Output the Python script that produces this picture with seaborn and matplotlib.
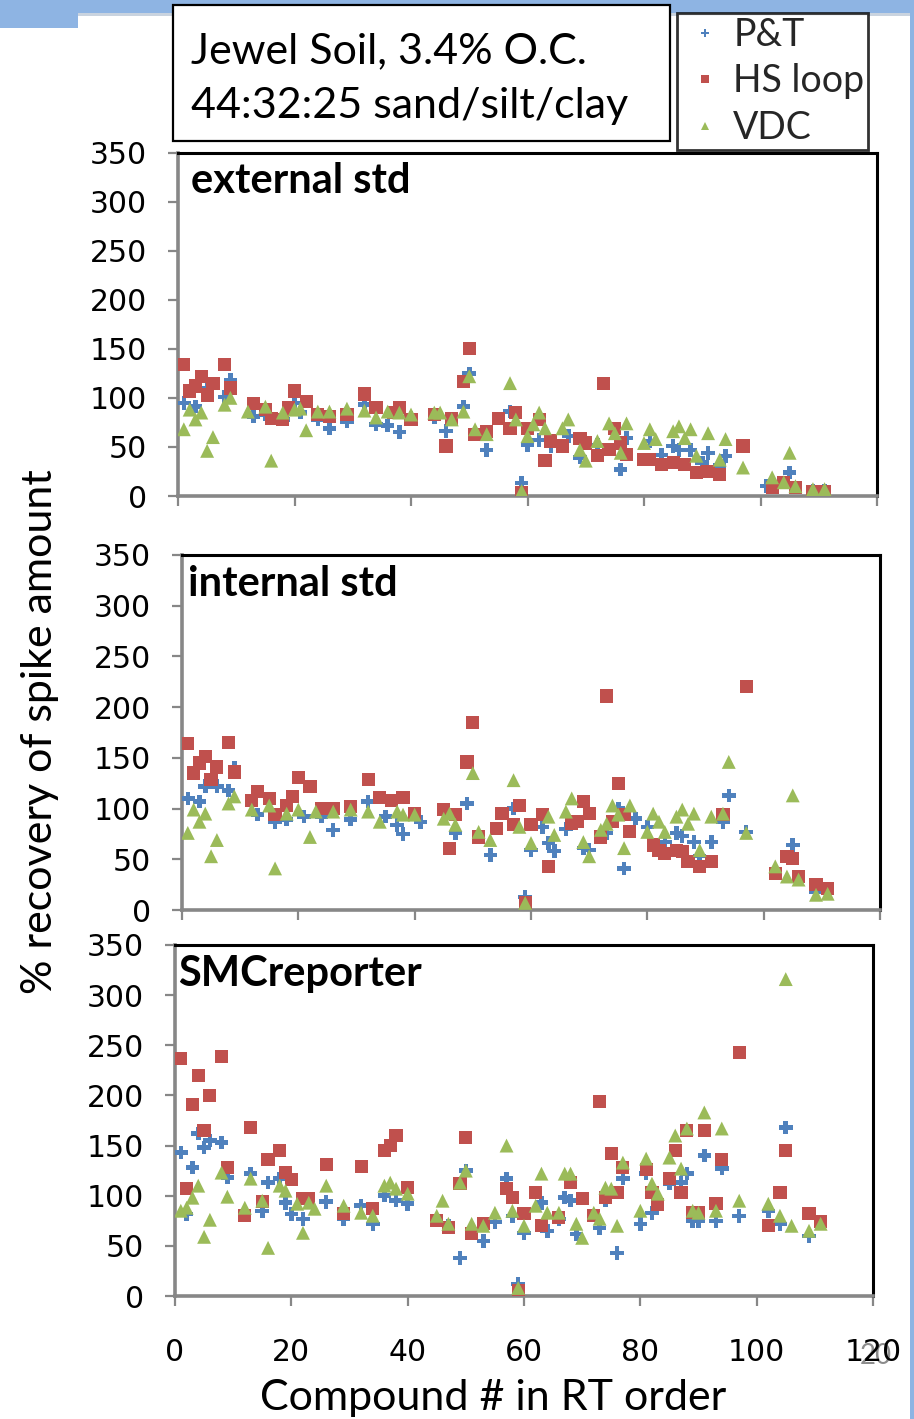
import numpy as np
import pandas as pd
import matplotlib
matplotlib.use("Agg")
import matplotlib.pyplot as plt
import seaborn as sns
from matplotlib.patches import Rectangle
from matplotlib.lines import Line2D

sns.set_theme(style="white")
plt.rcParams['font.family'] = ['Lato', 'DejaVu Sans']

# ---------------- data ----------------
methods = ["P&T", "HS loop", "VDC"]
panel_titles = ["external std", "internal std", "SMCreporter"]
y_ticks = [0, 50, 100, 150, 200, 250, 300, 350]
x_ticks = [0, 20, 40, 60, 80, 100, 120]
title_lines = ["Jewel Soil, 3.4% O.C.", "44:32:25 sand/silt/clay"]

ext_pt = [(1,95),(3,91),(5,110),(8,101),(9,118),(13,81),(15,83),(18,78),(20,95),(21,85),(24,78),(26,69),(29,76),(32,93),(34,73),(36,72),(38,65),(40,80),(44,80),(46,66),(49,91),(50,125),(53,47),(57,86),(59,13),(60,52),(62,57),(64,51),(67,61),(69,39),(72,52),(76,27),(77,59),(81,56),(83,42),(85,51),(86,47),(88,47),(90,34),(91,44),(93,31),(94,41),(101,10),(105,24),(109,5),(111,5)]
ext_hs = [(1,134),(2,107),(3,112),(4,122),(5,103),(6,115),(8,134),(9,110),(13,94),(15,88),(16,79),(18,78),(19,90),(20,107),(22,96),(24,83),(26,81),(29,83),(32,104),(34,90),(37,85),(38,90),(40,78),(44,83),(46,51),(47,79),(49,117),(50,150),(51,63),(53,66),(55,79),(57,69),(58,85),(59,3),(60,69),(62,78),(63,36),(64,56),(66,51),(69,59),(70,54),(72,41),(73,115),(74,47),(75,69),(76,54),(77,42),(80,37),(81,37),(83,32),(85,34),(87,32),(89,24),(91,25),(93,22),(97,51),(102,9),(104,14),(106,9),(109,5),(111,5)]
ext_vdc = [(1,68),(2,88),(3,78),(4,85),(5,46),(6,60),(8,93),(9,100),(12,86),(15,91),(16,36),(18,85),(20,88),(21,89),(22,67),(24,86),(26,86),(29,89),(32,87),(34,80),(36,86),(38,85),(40,83),(44,85),(45,85),(47,78),(49,86),(50,122),(51,68),(53,63),(57,115),(58,78),(59,5),(60,61),(61,73),(62,85),(63,69),(66,69),(67,78),(69,47),(70,36),(72,56),(74,74),(75,64),(76,44),(77,74),(80,54),(81,68),(82,58),(85,66),(86,71),(87,59),(88,68),(89,41),(91,64),(93,37),(94,58),(97,29),(102,19),(104,14),(105,44),(106,10),(109,7),(111,7)]

int_pt = [(1,110),(3,107),(4,122),(6,122),(8,118),(9,140),(13,94),(16,87),(18,89),(21,92),(24,92),(26,79),(29,89),(32,107),(35,92),(37,84),(38,75),(41,87),(47,76),(49,105),(53,54),(57,100),(59,13),(60,59),(62,82),(63,66),(64,58),(66,80),(69,61),(70,59),(73,76),(75,100),(76,41),(78,90),(80,82),(83,67),(85,76),(86,73),(88,67),(89,53),(91,67),(93,87),(94,113),(97,77),(105,64),(109,18),(111,18)]
int_hs = [(1,164),(2,135),(3,145),(4,151),(5,129),(6,141),(8,165),(9,136),(12,108),(13,117),(15,110),(16,94),(18,103),(19,112),(20,131),(22,122),(24,100),(26,100),(29,102),(32,129),(34,111),(36,108),(38,111),(40,95),(45,99),(46,61),(47,94),(49,146),(50,185),(51,72),(54,80),(55,95),(57,84),(58,103),(59,7),(60,84),(62,94),(63,43),(67,85),(68,87),(69,107),(70,95),(72,72),(73,211),(74,87),(75,125),(76,94),(77,77),(81,64),(82,59),(83,56),(85,59),(86,58),(87,48),(89,43),(91,48),(93,94),(97,220),(102,36),(104,53),(105,51),(106,33),(109,25),(111,21)]
int_vdc = [(1,76),(2,99),(3,87),(4,95),(5,53),(6,69),(8,105),(9,112),(12,99),(15,103),(16,41),(18,95),(20,99),(22,72),(23,97),(26,97),(29,99),(32,97),(34,87),(37,97),(38,94),(40,94),(45,90),(46,95),(47,84),(50,135),(51,77),(53,69),(57,128),(58,82),(59,7),(60,66),(63,92),(64,74),(66,97),(67,110),(69,67),(70,53),(72,79),(73,85),(74,103),(75,94),(76,61),(77,103),(80,77),(81,95),(82,87),(83,77),(85,92),(86,99),(87,85),(88,95),(89,59),(91,92),(93,95),(94,146),(97,76),(102,43),(104,33),(105,113),(106,30),(109,15),(111,16)]

smc_pt = [(1,143),(2,82),(3,128),(4,162),(5,148),(6,155),(8,153),(9,118),(13,122),(15,85),(16,113),(18,117),(19,93),(20,82),(22,77),(26,94),(29,77),(32,90),(34,72),(36,100),(38,95),(40,92),(47,70),(49,38),(50,125),(53,55),(55,74),(57,117),(58,80),(59,12),(60,63),(63,93),(64,65),(66,77),(67,98),(68,95),(69,62),(73,68),(74,95),(76,43),(77,117),(80,72),(81,122),(82,83),(85,112),(87,113),(88,122),(89,75),(90,75),(91,140),(93,75),(94,127),(97,80),(102,85),(104,72),(105,168),(109,60)]
smc_hs = [(1,237),(2,107),(3,191),(4,220),(5,165),(6,200),(8,239),(9,128),(12,80),(13,168),(15,94),(16,136),(18,145),(19,123),(20,116),(22,97),(23,97),(26,131),(29,82),(32,129),(34,87),(36,145),(37,150),(38,160),(40,108),(45,75),(47,68),(49,112),(50,158),(51,62),(53,72),(57,107),(58,98),(59,5),(60,82),(62,103),(63,70),(66,78),(68,113),(70,97),(72,80),(73,194),(74,98),(75,142),(76,103),(77,128),(81,126),(82,103),(83,91),(85,117),(86,145),(87,103),(88,165),(89,83),(90,83),(91,165),(93,92),(94,136),(97,243),(102,70),(104,103),(105,145),(109,82),(111,74)]
smc_vdc = [(1,85),(2,88),(3,98),(4,110),(5,59),(6,76),(8,123),(9,99),(12,88),(13,117),(15,95),(16,48),(18,110),(19,105),(21,92),(22,63),(23,93),(24,87),(26,110),(29,90),(32,83),(34,80),(36,110),(37,113),(38,107),(40,102),(45,80),(46,95),(47,72),(49,113),(50,125),(51,72),(53,70),(55,83),(57,150),(58,85),(59,8),(60,70),(62,90),(63,122),(64,83),(66,83),(67,122),(68,122),(69,72),(70,58),(72,83),(73,77),(74,108),(75,107),(76,70),(77,133),(80,85),(81,137),(82,112),(83,102),(85,138),(86,160),(87,127),(88,167),(89,85),(90,83),(91,183),(93,85),(94,167),(97,95),(102,92),(104,80),(105,316),(106,70),(109,65),(111,72)]

panel_data = [
    {"P&T": ext_pt, "HS loop": ext_hs, "VDC": ext_vdc},
    {"P&T": int_pt, "HS loop": int_hs, "VDC": int_vdc},
    {"P&T": smc_pt, "HS loop": smc_hs, "VDC": smc_vdc},
]

# ---------------- styles ----------------
colors = {"P&T": "#4F81BD", "HS loop": "#C0504D", "VDC": "#9BBB59"}
markers = {"P&T": "P", "HS loop": "s", "VDC": "^"}
msize = {"P&T": 95, "HS loop": 90, "VDC": 100}

W, H = 914, 1419
fig = plt.figure(figsize=(W / 100, H / 100), dpi=100)
fig.patch.set_facecolor("white")

# overlay axes in pixel coordinates for slide decorations
bg = fig.add_axes([0, 0, 1, 1])
bg.set_xlim(0, W)
bg.set_ylim(H, 0)
bg.axis("off")
slide_blue = "#8EB4E3"
bg.add_patch(Rectangle((0, 0), W, 13, facecolor=slide_blue, edgecolor="none"))
bg.add_patch(Rectangle((0, 0), 78, 28, facecolor=slide_blue, edgecolor="none"))
bg.add_patch(Rectangle((78, 13), W - 82, 3, facecolor="#C9D3DF", edgecolor="none"))
bg.add_patch(Rectangle((910, 0), 4, H, facecolor=slide_blue, edgecolor="none"))
# title box
bg.add_patch(Rectangle((173, 5), 497, 136, facecolor="white", edgecolor="black", linewidth=1.6))
bg.text(191, 63, title_lines[0], fontsize=31, va="baseline", ha="left", color="black")
bg.text(191, 118, title_lines[1], fontsize=31, va="baseline", ha="left", color="black")

def px_axes(left, top, right, bottom):
    return fig.add_axes([left / W, 1 - bottom / H, (right - left) / W, (bottom - top) / H])

boxes = [(178, 152.5, 877, 496), (182, 555, 880, 910), (175, 945, 873, 1296)]
title_pos = [(191, 193), (188, 596), (178, 986)]
gray = "#878787"

for i, (box, pdata) in enumerate(zip(boxes, panel_data)):
    ax = px_axes(*box)
    ax.set_facecolor("none")
    for m in methods:
        pts = pdata[m]
        df = pd.DataFrame({"compound": [p[0] for p in pts], "recovery": [p[1] for p in pts]})
        sns.scatterplot(data=df, x="compound", y="recovery", ax=ax, marker=markers[m],
                        color=colors[m], s=msize[m], edgecolor="none", linewidth=0, legend=False,
                        zorder=3)
    ax.set_xlim(0, 120)
    ax.set_ylim(0, 350)
    ax.set_xticks(x_ticks)
    ax.set_yticks(y_ticks)
    ax.set_xlabel("")
    ax.set_ylabel("")
    ax.grid(False)
    for s in ["left", "bottom"]:
        ax.spines[s].set_color(gray)
        ax.spines[s].set_linewidth(2.6)
    for s in ["top", "right"]:
        ax.spines[s].set_color("black")
        ax.spines[s].set_linewidth(2.2)
    ax.tick_params(axis="both", which="both", direction="out", length=7.5, width=1.6,
                   color=gray, left=True, bottom=True)
    ax.tick_params(axis="y", pad=15, labelsize=21.5, labelcolor="black")
    for lab in ax.get_yticklabels():
        lab.set_family("DejaVu Sans")
    if i < 2:
        ax.tick_params(axis="x", labelbottom=False)
    else:
        ax.tick_params(axis="x", pad=23, labelsize=21.5, labelcolor="black")
        for lab in ax.get_xticklabels():
            lab.set_family("DejaVu Sans")
    bg.text(title_pos[i][0], title_pos[i][1], panel_titles[i], fontsize=30, fontweight="bold",
            va="baseline", ha="left", color="black")

# legend
handles = [Line2D([], [], linestyle="none", marker=markers[m], color=colors[m],
                  markersize=6, markeredgewidth=0) for m in methods]
leg = fig.legend(handles, methods, loc="upper left", bbox_to_anchor=(677 / W, 1 - 13 / H),
                 frameon=True, fancybox=False, edgecolor="black", facecolor="white",
                 fontsize=27, handlelength=1.3, handletextpad=0.1, labelspacing=0.28,
                 borderpad=0.1, borderaxespad=0)
leg.get_frame().set_linewidth(2.0)

# axis labels
bg.text(40, 732, "% recovery of spike amount", rotation=90, fontsize=31, ha="center", va="center",
        color="black")
bg.text(493, 1410, "Compound # in RT order", fontsize=31, ha="center", va="baseline", color="black")
bg.text(876, 1356, "20", fontsize=20, ha="center", va="center", color="#8C8C8C")

fig.savefig("out.png", dpi=100, facecolor="white")
